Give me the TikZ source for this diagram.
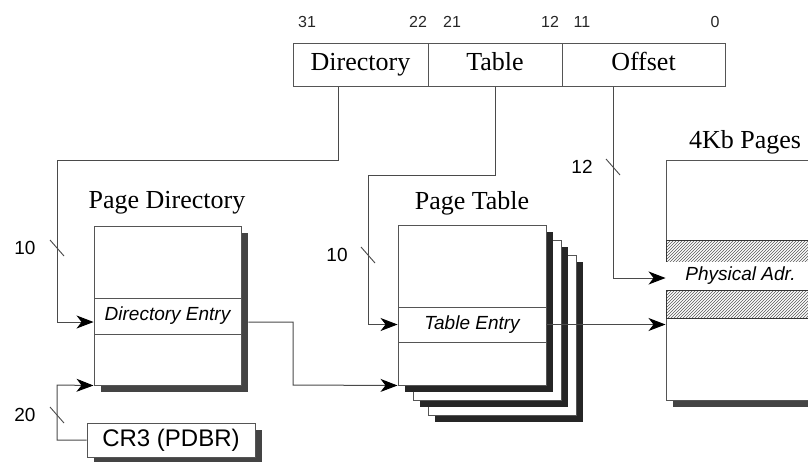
\documentclass[tikz,border=0pt]{standalone}
\usepackage{fontspec}
\setmainfont{Liberation Serif}
\setsansfont{Liberation Sans}
\usetikzlibrary{arrows.meta,calc,shadows,patterns}
\definecolor{wire}{HTML}{4A4A4A}
\definecolor{edge}{HTML}{555555}
\definecolor{shade}{HTML}{444444}
\definecolor{deep}{HTML}{262626}
\tikzset{
  fieldbox/.style={draw=edge, line width=1pt, fill=white, inner sep=0pt,
                   minimum height=43pt, text height=17pt, text depth=5pt,
                   font=\fontsize{26}{28}\selectfont},
  pagebox/.style={draw=edge, line width=1pt, fill=white, inner sep=0pt,
                  drop shadow={shadow xshift=7pt, shadow yshift=-7pt, opacity=1, fill=#1}},
  pagebox/.default=shade,
  rowbox/.style={draw=edge, line width=0.9pt, fill=white, inner sep=0pt,
                 font=\sffamily\itshape\fontsize{19}{21}\selectfont},
  hatchbox/.style={draw=black!80, line width=0.9pt, inner sep=0pt,
                   pattern=north east lines, pattern color=black!65},
  titletext/.style={font=\fontsize{26}{28}\selectfont},
  bitnum/.style={font=\sffamily\fontsize{16}{18}\selectfont, text=black!85},
  widthnum/.style={font=\sffamily\fontsize{19}{21}\selectfont},
  slash/.style={draw=wire, line width=0.9pt},
  arr/.style={-{Stealth[length=17pt,width=13pt,inset=5pt,fill=black,color=black]},
              line width=1pt, draw=wire}}

\begin{document}
\begin{tikzpicture}[x=1pt,y=-1pt]
  \clip (0,0) rectangle (808,461);
  % linear address fields
  \node[fieldbox, minimum width=135pt] (dirf) at (360.5,64.5) {Directory};
  \node[fieldbox, minimum width=134pt] (tabf) at (495,64.5) {Table};
  \node[fieldbox, minimum width=163pt] (offf) at (643.5,64.5) {Offset};
  \node[bitnum] (b31) at (307,22) {31};
  \node[bitnum] (b22) at (418,22) {22};
  \node[bitnum] (b21) at (452,22) {21};
  \node[bitnum] (b12) at (550,22) {12};
  \node[bitnum] (b11) at (582,22) {11};
  \node[bitnum] (b0) at (715,22) {0};
  \coordinate (dirtap) at ([xshift=-22.5pt]dirf.south);
  \coordinate (offtap) at ([xshift=-30.5pt]offf.south);

  % page directory
  \node[titletext] (pdtitle) at (167,203) {Page Directory};
  \node[pagebox, minimum width=147pt, minimum height=159pt] (pd) at (167.5,305.5) {};
  \node[rowbox, minimum width=147pt, minimum height=36pt] (pde) at (167.5,316) {Directory Entry};
  \node[pagebox, minimum width=168pt, minimum height=34pt,
        font=\sffamily\fontsize{24}{26}\selectfont] (cr3) at (171,440) {CR3 (PDBR)};

  % page table stack
  \node[titletext] (pttitle) at (472,203) {Page Table};
  \node[pagebox=deep, minimum width=148pt, minimum height=160pt] (pt2) at (502,335) {};
  \node[pagebox=deep, minimum width=148pt, minimum height=160pt] (pt1) at (487,320) {};
  \node[pagebox=deep, minimum width=148pt, minimum height=160pt] (pt) at (472,305) {};
  \node[rowbox, minimum width=148pt, minimum height=35pt] (pte) at (472,324.5) {Table Entry};

  % 4Kb pages
  \node[titletext] (pgtitle) at (745,142) {4Kb Pages};
  \node[pagebox, minimum width=194pt, minimum height=240pt] (pg) at (763,280) {};
  \node[hatchbox, minimum width=194pt, minimum height=22pt] (hatch1) at (763,251) {};
  \node[rowbox, minimum width=194pt, minimum height=28pt, draw=none] (pa) at (763,276) {\hspace*{-45pt}Physical Adr.};
  \node[hatchbox, minimum width=194pt, minimum height=28pt] (hatch2) at (763,304) {};

  % connectors
  \draw[arr] (dirtap) |- (57,160) |- ([yshift=-6pt]pde.west);
  \draw[arr] (cr3.west) -| (57,385) -- (pd.south west);
  \draw[arr] ([shift={(7pt,-6pt)}]pde.east) -| (293,385) -- (pt.south west);
  \draw[arr] (tabf.south) |- (368,175) |- (pte.west);
  \draw[arr] (pte.east) -- (pte.east -| pg.west);
  \draw[arr] (offtap) |- ([yshift=-2pt]pa.west);

  % bus widths
  \draw[slash] (50,240) -- (64,256);
  \node[widthnum] (w10a) at (25,248) {10};
  \draw[slash] (50,407) -- (64,423);
  \node[widthnum] (w20) at (25,415) {20};
  \draw[slash] (361,247) -- (375,263);
  \node[widthnum] (w10b) at (337,255) {10};
  \draw[slash] (606,159) -- (620,175);
  \node[widthnum] (w12) at (582,167) {12};
\end{tikzpicture}
\end{document}
